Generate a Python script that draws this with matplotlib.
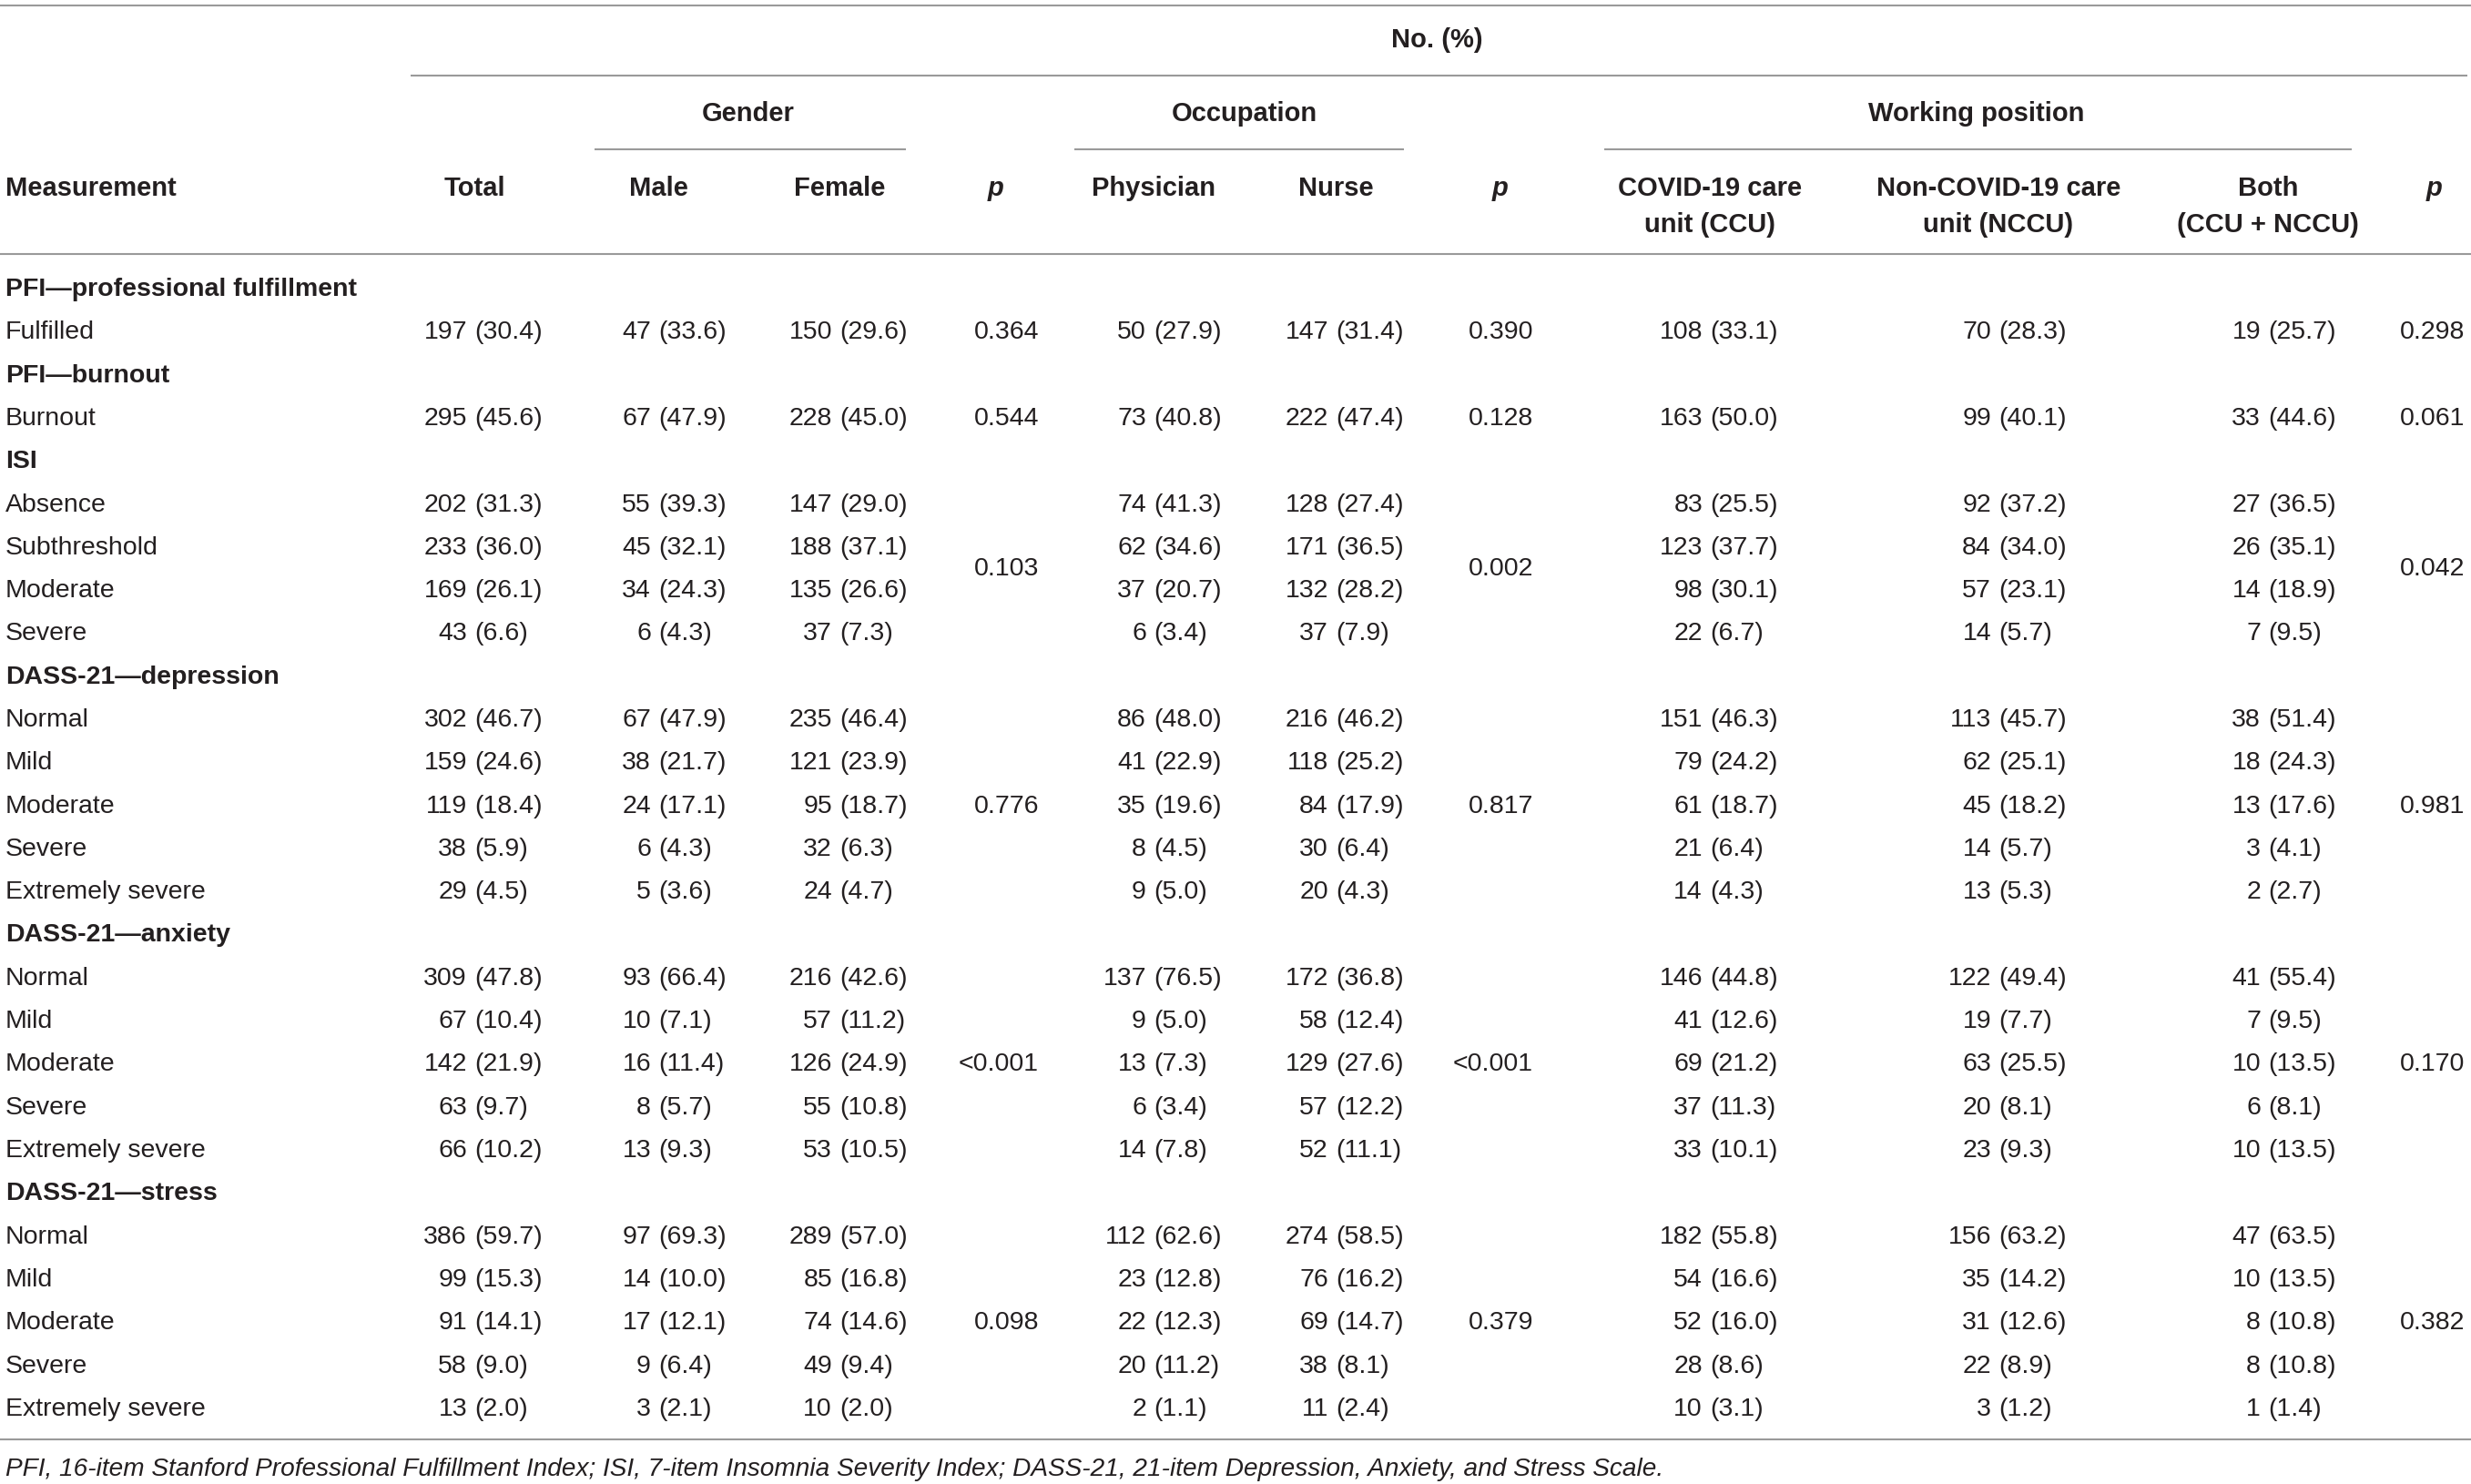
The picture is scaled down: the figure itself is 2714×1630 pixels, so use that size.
import matplotlib
matplotlib.use('Agg')
import matplotlib.pyplot as plt

plt.rcParams['font.family'] = ['Liberation Sans', 'DejaVu Sans']

# table contents
sections = ['PFI\u2014professional fulfillment', 'PFI\u2014burnout', 'ISI',
            'DASS-21\u2014depression', 'DASS-21\u2014anxiety', 'DASS-21\u2014stress']
levels = [['Fulfilled'], ['Burnout'],
          ['Absence', 'Subthreshold', 'Moderate', 'Severe'],
          ['Normal', 'Mild', 'Moderate', 'Severe', 'Extremely severe'],
          ['Normal', 'Mild', 'Moderate', 'Severe', 'Extremely severe'],
          ['Normal', 'Mild', 'Moderate', 'Severe', 'Extremely severe']]

total_n = [197, 295, 202, 233, 169, 43, 302, 159, 119, 38, 29, 309, 67, 142, 63, 66, 386, 99, 91, 58, 13]
total_pct = [30.4, 45.6, 31.3, 36.0, 26.1, 6.6, 46.7, 24.6, 18.4, 5.9, 4.5, 47.8, 10.4, 21.9, 9.7, 10.2, 59.7, 15.3, 14.1, 9.0, 2.0]
male_n = [47, 67, 55, 45, 34, 6, 67, 38, 24, 6, 5, 93, 10, 16, 8, 13, 97, 14, 17, 9, 3]
male_pct = [33.6, 47.9, 39.3, 32.1, 24.3, 4.3, 47.9, 21.7, 17.1, 4.3, 3.6, 66.4, 7.1, 11.4, 5.7, 9.3, 69.3, 10.0, 12.1, 6.4, 2.1]
female_n = [150, 228, 147, 188, 135, 37, 235, 121, 95, 32, 24, 216, 57, 126, 55, 53, 289, 85, 74, 49, 10]
female_pct = [29.6, 45.0, 29.0, 37.1, 26.6, 7.3, 46.4, 23.9, 18.7, 6.3, 4.7, 42.6, 11.2, 24.9, 10.8, 10.5, 57.0, 16.8, 14.6, 9.4, 2.0]
phys_n = [50, 73, 74, 62, 37, 6, 86, 41, 35, 8, 9, 137, 9, 13, 6, 14, 112, 23, 22, 20, 2]
phys_pct = [27.9, 40.8, 41.3, 34.6, 20.7, 3.4, 48.0, 22.9, 19.6, 4.5, 5.0, 76.5, 5.0, 7.3, 3.4, 7.8, 62.6, 12.8, 12.3, 11.2, 1.1]
nurse_n = [147, 222, 128, 171, 132, 37, 216, 118, 84, 30, 20, 172, 58, 129, 57, 52, 274, 76, 69, 38, 11]
nurse_pct = [31.4, 47.4, 27.4, 36.5, 28.2, 7.9, 46.2, 25.2, 17.9, 6.4, 4.3, 36.8, 12.4, 27.6, 12.2, 11.1, 58.5, 16.2, 14.7, 8.1, 2.4]
ccu_n = [108, 163, 83, 123, 98, 22, 151, 79, 61, 21, 14, 146, 41, 69, 37, 33, 182, 54, 52, 28, 10]
ccu_pct = [33.1, 50.0, 25.5, 37.7, 30.1, 6.7, 46.3, 24.2, 18.7, 6.4, 4.3, 44.8, 12.6, 21.2, 11.3, 10.1, 55.8, 16.6, 16.0, 8.6, 3.1]
nccu_n = [70, 99, 92, 84, 57, 14, 113, 62, 45, 14, 13, 122, 19, 63, 20, 23, 156, 35, 31, 22, 3]
nccu_pct = [28.3, 40.1, 37.2, 34.0, 23.1, 5.7, 45.7, 25.1, 18.2, 5.7, 5.3, 49.4, 7.7, 25.5, 8.1, 9.3, 63.2, 14.2, 12.6, 8.9, 1.2]
both_n = [19, 33, 27, 26, 14, 7, 38, 18, 13, 3, 2, 41, 7, 10, 6, 10, 47, 10, 8, 8, 1]
both_pct = [25.7, 44.6, 36.5, 35.1, 18.9, 9.5, 51.4, 24.3, 17.6, 4.1, 2.7, 55.4, 9.5, 13.5, 8.1, 13.5, 63.5, 13.5, 10.8, 10.8, 1.4]

p_gender = ['0.364', '0.544', '0.103', '0.776', '<0.001', '0.098']
p_occup = ['0.390', '0.128', '0.002', '0.817', '<0.001', '0.379']
p_position = ['0.298', '0.061', '0.042', '0.981', '0.170', '0.382']

col_heads = ['Total', 'Male', 'Female', 'Physician', 'Nurse',
             'COVID-19 care\nunit (CCU)', 'Non-COVID-19 care\nunit (NCCU)', 'Both\n(CCU + NCCU)']
footnote = ('PFI, 16-item Stanford Professional Fulfillment Index; ISI, 7-item Insomnia Severity Index; '
            'DASS-21, 21-item Depression, Anxiety, and Stress Scale.')

# layout (pixel coordinates)
W, H = 2714, 1630
col_x = [521, 723, 922, 1267, 1467, 1878, 2195, 2491]
p_right = [1141, 1684, 2707]
p_head = [1094, 1648, 2674]
row0, step = 315, 47.3
fs = 20.5
fs_head = 21
tc = '#231f20'
lc = '#9a9a9a'

fig = plt.figure(figsize=(W / 100, H / 100), dpi=100)
ax = fig.add_axes([0, 0, 1, 1])
ax.set_xlim(0, W)
ax.set_ylim(H, 0)
ax.axis('off')


def txt(x, y, s, **kw):
    # y is the visual centre of the capital letters
    kw.setdefault('fontsize', fs)
    kw.setdefault('color', tc)
    ax.text(x, y + 10, s, va='baseline', **kw)


# rules
for y, x0, x1 in [(6, 0, W), (83, 451, 2710), (164, 653, 995), (164, 1180, 1542),
                  (164, 1762, 2583), (279, 0, W), (1581, 0, W)]:
    ax.plot([x0, x1], [y, y], color=lc, lw=1.5, solid_capstyle='butt')

# header
txt(1578, 42, 'No. (%)', ha='center', fontweight='bold', fontsize=fs_head)
txt(822, 123, 'Gender', ha='center', fontweight='bold', fontsize=fs_head)
txt(1367, 123, 'Occupation', ha='center', fontweight='bold', fontsize=fs_head)
txt(2171, 123, 'Working position', ha='center', fontweight='bold', fontsize=fs_head)
txt(6, 205, 'Measurement', ha='left', fontweight='bold', fontsize=fs_head)
for x, h in zip(col_x, col_heads):
    for k, line in enumerate(h.split('\n')):
        txt(x, 205 + 40 * k, line, ha='center', fontweight='bold', fontsize=fs_head)
for x in p_head:
    txt(x, 205, 'p', ha='center', fontweight='bold', fontstyle='italic', fontsize=fs_head)

# body
cols = [(total_n, total_pct), (male_n, male_pct), (female_n, female_pct),
        (phys_n, phys_pct), (nurse_n, nurse_pct),
        (ccu_n, ccu_pct), (nccu_n, nccu_pct), (both_n, both_pct)]
line_i = 0
data_i = 0
for s, sec in enumerate(sections):
    txt(6, row0 + step * line_i, sec, ha='left', fontweight='bold')
    line_i += 1
    ys = []
    for lev in levels[s]:
        y = row0 + step * line_i
        ys.append(y)
        txt(6, y, lev, ha='left')
        for x, (n, pct) in zip(col_x, cols):
            txt(x - 8, y, str(n[data_i]), ha='right')
            txt(x, y, '(%.1f)' % pct[data_i], ha='left')
        line_i += 1
        data_i += 1
    ym = sum(ys) / len(ys)
    for x, pv in zip(p_right, [p_gender[s], p_occup[s], p_position[s]]):
        txt(x, ym, pv, ha='right')

txt(6, 1611, footnote, ha='left', fontstyle='italic', fontsize=20.2)

fig.savefig('out.png', dpi=100)
